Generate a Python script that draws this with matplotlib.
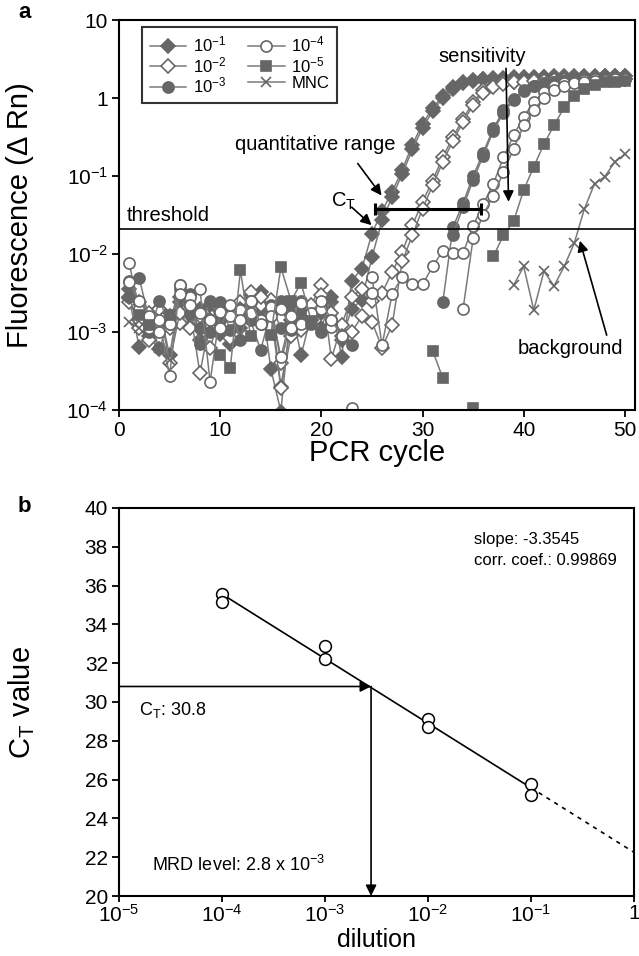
import numpy as np
import matplotlib
matplotlib.use("Agg")
import matplotlib.pyplot as plt
from matplotlib.ticker import NullLocator

plt.rcParams['font.family'] = ['Liberation Sans', 'DejaVu Sans']
plt.rcParams['mathtext.fontset'] = 'custom'
plt.rcParams['mathtext.rm'] = 'Liberation Sans'
plt.rcParams['mathtext.it'] = 'Liberation Sans:italic'
plt.rcParams['mathtext.bf'] = 'Liberation Sans:bold'

nan = np.nan

# ---- panel a: amplification curves, log10(delta Rn) per PCR cycle 1..50 ----
cycles = np.arange(1, 51)

log_d1a = [-2.57, -3.19, -2.95, -3.22, -2.80, -2.62, -2.93, -2.70, -2.85, -3.02,
           -2.80, -2.95, -2.52, -2.49, -3.47, -4.02, -2.68, -3.30, -2.78, -2.75,
           -2.61, -3.32, -2.34, -2.19, -1.74, -1.45, -1.20, -0.92, -0.60, -0.33,
           -0.13, 0.03, 0.14, 0.20, 0.23, 0.25, 0.26, 0.26, 0.27, 0.27,
           0.27, 0.27, 0.28, 0.28, 0.28, 0.28, 0.28, 0.28, 0.28, 0.28]
log_d1b = [-2.45, -2.62, -3.05, -2.70, -3.30, -2.55, -2.78, -3.10, -2.66, -2.90,
           -3.15, -2.72, -2.60, -2.75, -2.60, -3.70, -2.90, -2.65, -2.85, -2.95,
           -2.55, -3.10, -2.70, -2.59, -2.04, -1.57, -1.27, -0.97, -0.66, -0.38,
           -0.17, 0.00, 0.12, 0.19, 0.22, 0.24, 0.25, 0.25, 0.26, 0.26,
           0.26, 0.27, 0.27, 0.27, 0.27, 0.27, 0.27, 0.28, 0.28, 0.28]
log_d2a = [-2.61, -2.85, -2.75, -2.80, -2.95, -2.89, -2.70, -3.53, -2.85, -2.72,
           -3.08, -2.62, -2.49, -2.65, -2.59, -3.40, -2.85, -2.97, -2.65, -2.40,
           -3.34, -2.91, -2.55, -2.45, -2.60, -2.50, -2.23, -1.97, -1.63, -1.33,
           -1.06, -0.76, -0.50, -0.27, -0.05, 0.10, 0.16, 0.20, 0.21, 0.22,
           0.22, 0.23, 0.23, 0.24, 0.24, 0.24, 0.25, 0.25, 0.25, 0.25]
log_d2b = [-2.55, -2.95, -3.10, -2.70, -3.40, -2.75, -2.95, -2.80, -3.20, -2.80,
           -2.90, -2.70, -2.80, -2.55, -2.75, -3.72, -3.05, -2.70, -2.85, -2.53,
           -2.75, -3.05, -3.00, -2.80, -2.87, -3.20, -2.91, -2.09, -1.76, -1.42,
           -1.12, -0.82, -0.55, -0.31, -0.09, 0.07, 0.14, 0.18, 0.20, 0.21,
           0.22, 0.22, 0.23, 0.23, 0.23, 0.24, 0.24, 0.24, 0.24, 0.25]
log_d3a = [-2.35, -2.31, -2.85, -3.21, nan, -2.45, -2.51, -3.15, -3.00, -2.61,
           -2.98, -2.70, -2.85, -3.23, -2.75, -2.60, -2.98, -2.75, -2.90, -2.70,
           -2.85, nan, -3.17, nan, nan, nan, nan, nan, nan, nan,
           nan, -2.62, -1.66, -1.35, -1.00, -0.70, -0.39, -0.16, -0.01, 0.10,
           0.16, 0.19, 0.21, 0.22, 0.23, 0.24, 0.24, 0.25, 0.25, 0.25]
log_d3b = [-2.55, -2.70, -3.00, -2.60, -2.90, -2.40, -2.75, -2.95, -2.60, -2.85,
           -2.70, -3.10, -2.60, -2.90, -2.65, -2.95, -2.85, -2.60, -2.80, -3.00,
           -2.90, nan, nan, nan, nan, nan, nan, nan, nan, nan,
           nan, nan, -1.75, -1.40, -1.05, -0.74, -0.42, -0.19, -0.03, 0.09,
           0.15, 0.19, 0.21, 0.22, 0.23, 0.23, 0.24, 0.24, 0.25, 0.25]
log_d4a = [-2.12, -2.70, -2.95, -2.85, -3.57, -2.40, -2.55, -2.45, -3.64, -2.74,
           -2.80, -2.72, -2.75, -2.85, -2.68, -3.32, -2.80, -2.63, -2.75, -2.70,
           -2.93, nan, -3.98, nan, -2.29, -3.17, -2.51, -2.29, -2.38, -2.39,
           -2.16, -1.96, -1.99, -1.99, -1.64, -1.36, -1.10, -0.76, -0.48, -0.24,
           -0.05, 0.08, 0.16, 0.19, 0.21, 0.23, 0.24, 0.25, 0.25, 0.26]
log_d4b = [-2.36, -2.60, -2.80, -3.00, -2.90, -2.51, -2.65, -2.75, -2.85, -2.95,
           -2.65, -2.85, -2.60, -2.90, -2.80, -2.70, -2.95, -2.90, -2.75, -2.60,
           -2.85, -3.05, nan, nan, -2.50, nan, nan, nan, nan, nan,
           nan, nan, nan, -2.71, -1.80, -1.50, -1.25, -0.95, -0.65, -0.35,
           -0.15, 0.00, 0.10, 0.16, 0.19, 0.21, 0.22, 0.23, 0.24, 0.25]
log_d5 = [nan, -2.78, -2.91, nan, -2.78, nan, nan, nan, nan, -3.30,
          -3.46, -2.21, -3.05, nan, -3.04, -2.17, -2.60, -2.37, -2.86, nan,
          nan, nan, nan, nan, nan, nan, nan, nan, nan, nan,
          -3.24, -3.59, nan, nan, -3.97, nan, -2.03, -1.76, -1.58, -1.18,
          -0.88, -0.59, -0.35, -0.12, 0.02, 0.12, 0.17, 0.20, 0.21, 0.22]
log_mnc = [-2.87, -2.95, nan, -3.20, -3.36, nan, nan, nan, nan, nan,
           nan, nan, nan, nan, nan, nan, nan, nan, nan, nan,
           nan, nan, nan, nan, nan, nan, nan, nan, nan, nan,
           nan, nan, nan, nan, nan, nan, nan, nan, -2.40, -2.16,
           -2.72, -2.22, -2.41, -2.16, -1.86, -1.42, -1.10, -1.01, -0.82, -0.72]

threshold = 0.021
range_lo, range_hi, range_y = 25.3, 35.8, 0.038

# ---- panel b: standard curve ----
dil = [1e-4, 1e-4, 1e-3, 1e-3, 1e-2, 1e-2, 1e-1, 1e-1]
ct = [35.55, 35.15, 32.9, 32.2, 29.1, 28.7, 25.75, 25.2]
ct_sample = 30.8
mrd_level = 2.8e-3

gray = '#666666'
line_gray = '#7a7a7a'

fig = plt.figure(figsize=(6.39, 9.56), dpi=100)
W, H = 639.0, 956.0
ax1 = fig.add_axes([119 / W, 1 - 410 / H, (635 - 119) / W, (410 - 20) / H])
ax2 = fig.add_axes([119 / W, 1 - 896 / H, (634 - 119) / W, (896 - 508) / H])

styles = [
    ('$10^{-1}$', [log_d1a, log_d1b], dict(marker='D', ms=7, mfc=gray, mec=gray)),
    ('$10^{-2}$', [log_d2a, log_d2b], dict(marker='D', ms=7, mfc='white', mec=gray)),
    ('$10^{-3}$', [log_d3a, log_d3b], dict(marker='o', ms=8, mfc=gray, mec=gray)),
    ('$10^{-4}$', [log_d4a, log_d4b], dict(marker='o', ms=8, mfc='white', mec=gray)),
    ('$10^{-5}$', [log_d5], dict(marker='s', ms=7.5, mfc=gray, mec=gray)),
    ('MNC', [log_mnc], dict(marker='x', ms=7, mfc=gray, mec=gray)),
]
handles = []
for label, reps, st in styles:
    for rep in reps:
        h, = ax1.plot(cycles, 10 ** np.array(rep), color=line_gray, lw=1.1,
                      mew=1.2, label=label, **st)
    handles.append(h)

ax1.axhline(threshold, color='k', lw=1.2)
ax1.plot([range_lo, range_hi], [range_y, range_y], color='k', lw=2.2,
         marker='|', ms=9, mew=2.2)

ax1.set_yscale('log')
ax1.set_ylim(1e-4, 10)
ax1.set_xlim(0, 51)
ax1.set_yticks([1e-4, 1e-3, 1e-2, 1e-1, 1, 10])
ax1.set_yticklabels(['$10^{-4}$', '$10^{-3}$', '$10^{-2}$', '$10^{-1}$', '1', '10'])
ax1.yaxis.set_minor_locator(NullLocator())
ax1.set_xticks(range(0, 51, 10))

arrow = dict(arrowstyle='-|>', color='k', lw=1.2, mutation_scale=16,
             shrinkA=0, shrinkB=0)
afs = 14.5
ax1.text(0.8, 0.0235, 'threshold', fontsize=afs, ha='left', va='bottom')
ax1.text(19.4, 10 ** -0.6, 'quantitative range', fontsize=afs, ha='center', va='center')
ax1.annotate('', xy=(25.95, 10 ** -1.25), xytext=(23.6, 10 ** -0.84), arrowprops=arrow)
ax1.text(22.2, 10 ** -1.33, 'C$_\\mathrm{T}$', fontsize=afs, ha='center', va='center')
ax1.annotate('', xy=(24.97, 10 ** -1.63), xytext=(23.0, 10 ** -1.40), arrowprops=arrow)
ax1.text(35.9, 10 ** 0.53, 'sensitivity', fontsize=afs, ha='center', va='center')
ax1.annotate('', xy=(38.5, 10 ** -1.33), xytext=(38.25, 10 ** 0.38), arrowprops=arrow)
ax1.text(44.6, 10 ** -3.21, 'background', fontsize=afs, ha='center', va='center')
ax1.annotate('', xy=(45.55, 10 ** -1.83), xytext=(48.2, 10 ** -3.04), arrowprops=arrow)

leg = ax1.legend(handles, [s[0] for s in styles], ncol=2, loc='upper left',
                 bbox_to_anchor=(0.045, 0.982), fontsize=12, frameon=True,
                 fancybox=False, edgecolor='k', handlelength=2.2,
                 columnspacing=1.3, handletextpad=0.4, labelspacing=0.05,
                 borderpad=0.45, borderaxespad=0)
leg.get_frame().set_linewidth(1.5)

ax1.set_xlabel('PCR cycle', fontsize=21)
ax1.set_ylabel('Fluorescence (\u0394 Rn)', fontsize=21)
ax1.xaxis.set_label_coords(0.5, -0.075)
ax1.yaxis.set_label_coords(-0.165, 0.5)

# ---- panel b ----
logd = np.log10(dil)
slope, icpt = np.polyfit(logd, ct, 1)
xs = np.array([1e-4, 1e-1])
ax2.plot(xs, slope * np.log10(xs) + icpt, color='k', lw=1.2)
xd = np.array([1e-1, 1.0])
ax2.plot(xd, slope * np.log10(xd) + icpt, color='k', lw=1.2, ls=(0, (2.5, 3)))
ax2.plot(dil, ct, ls='none', marker='o', ms=8.5, mfc='white', mec='k', mew=1.1)

ax2.annotate('', xy=(mrd_level, ct_sample), xytext=(1e-5, ct_sample), arrowprops=arrow)
ax2.annotate('', xy=(mrd_level, 20), xytext=(mrd_level, ct_sample), arrowprops=arrow)
ax2.text(1.55e-5, 29.6, 'C$_\\mathrm{T}$: 30.8', fontsize=13, ha='left', va='center')
ax2.text(2.1e-5, 21.6, 'MRD level: 2.8 x 10$^{-3}$', fontsize=13, ha='left', va='center')
ax2.text(0.028, 38.4, 'slope: -3.3545', fontsize=12, ha='left', va='center')
ax2.text(0.028, 37.3, 'corr. coef.: 0.99869', fontsize=12, ha='left', va='center')

ax2.set_xscale('log')
ax2.set_xlim(1e-5, 1)
ax2.set_ylim(20, 40)
ax2.set_yticks(range(20, 41, 2))
ax2.set_xticks([1e-5, 1e-4, 1e-3, 1e-2, 1e-1, 1])
ax2.set_xticklabels(['$10^{-5}$', '$10^{-4}$', '$10^{-3}$', '$10^{-2}$', '$10^{-1}$', '1'])
ax2.xaxis.set_minor_locator(NullLocator())
ax2.set_xlabel('dilution', fontsize=18, labelpad=1)
ax2.set_ylabel('C$_\\mathrm{T}$ value', fontsize=21)
ax2.yaxis.set_label_coords(-0.16, 0.5)

for ax in (ax1, ax2):
    for sp in ax.spines.values():
        sp.set_linewidth(1.5)
    ax.tick_params(direction='out', length=5, width=1.3, labelsize=15, pad=3)
ax2.tick_params(axis='x', pad=2, length=4)

fig.text(18 / W, 1 - 12 / H, 'a', fontsize=16, fontweight='bold', va='center')
fig.text(18 / W, 1 - 507 / H, 'b', fontsize=16, fontweight='bold', va='center')

fig.savefig('out.png', dpi=100)
